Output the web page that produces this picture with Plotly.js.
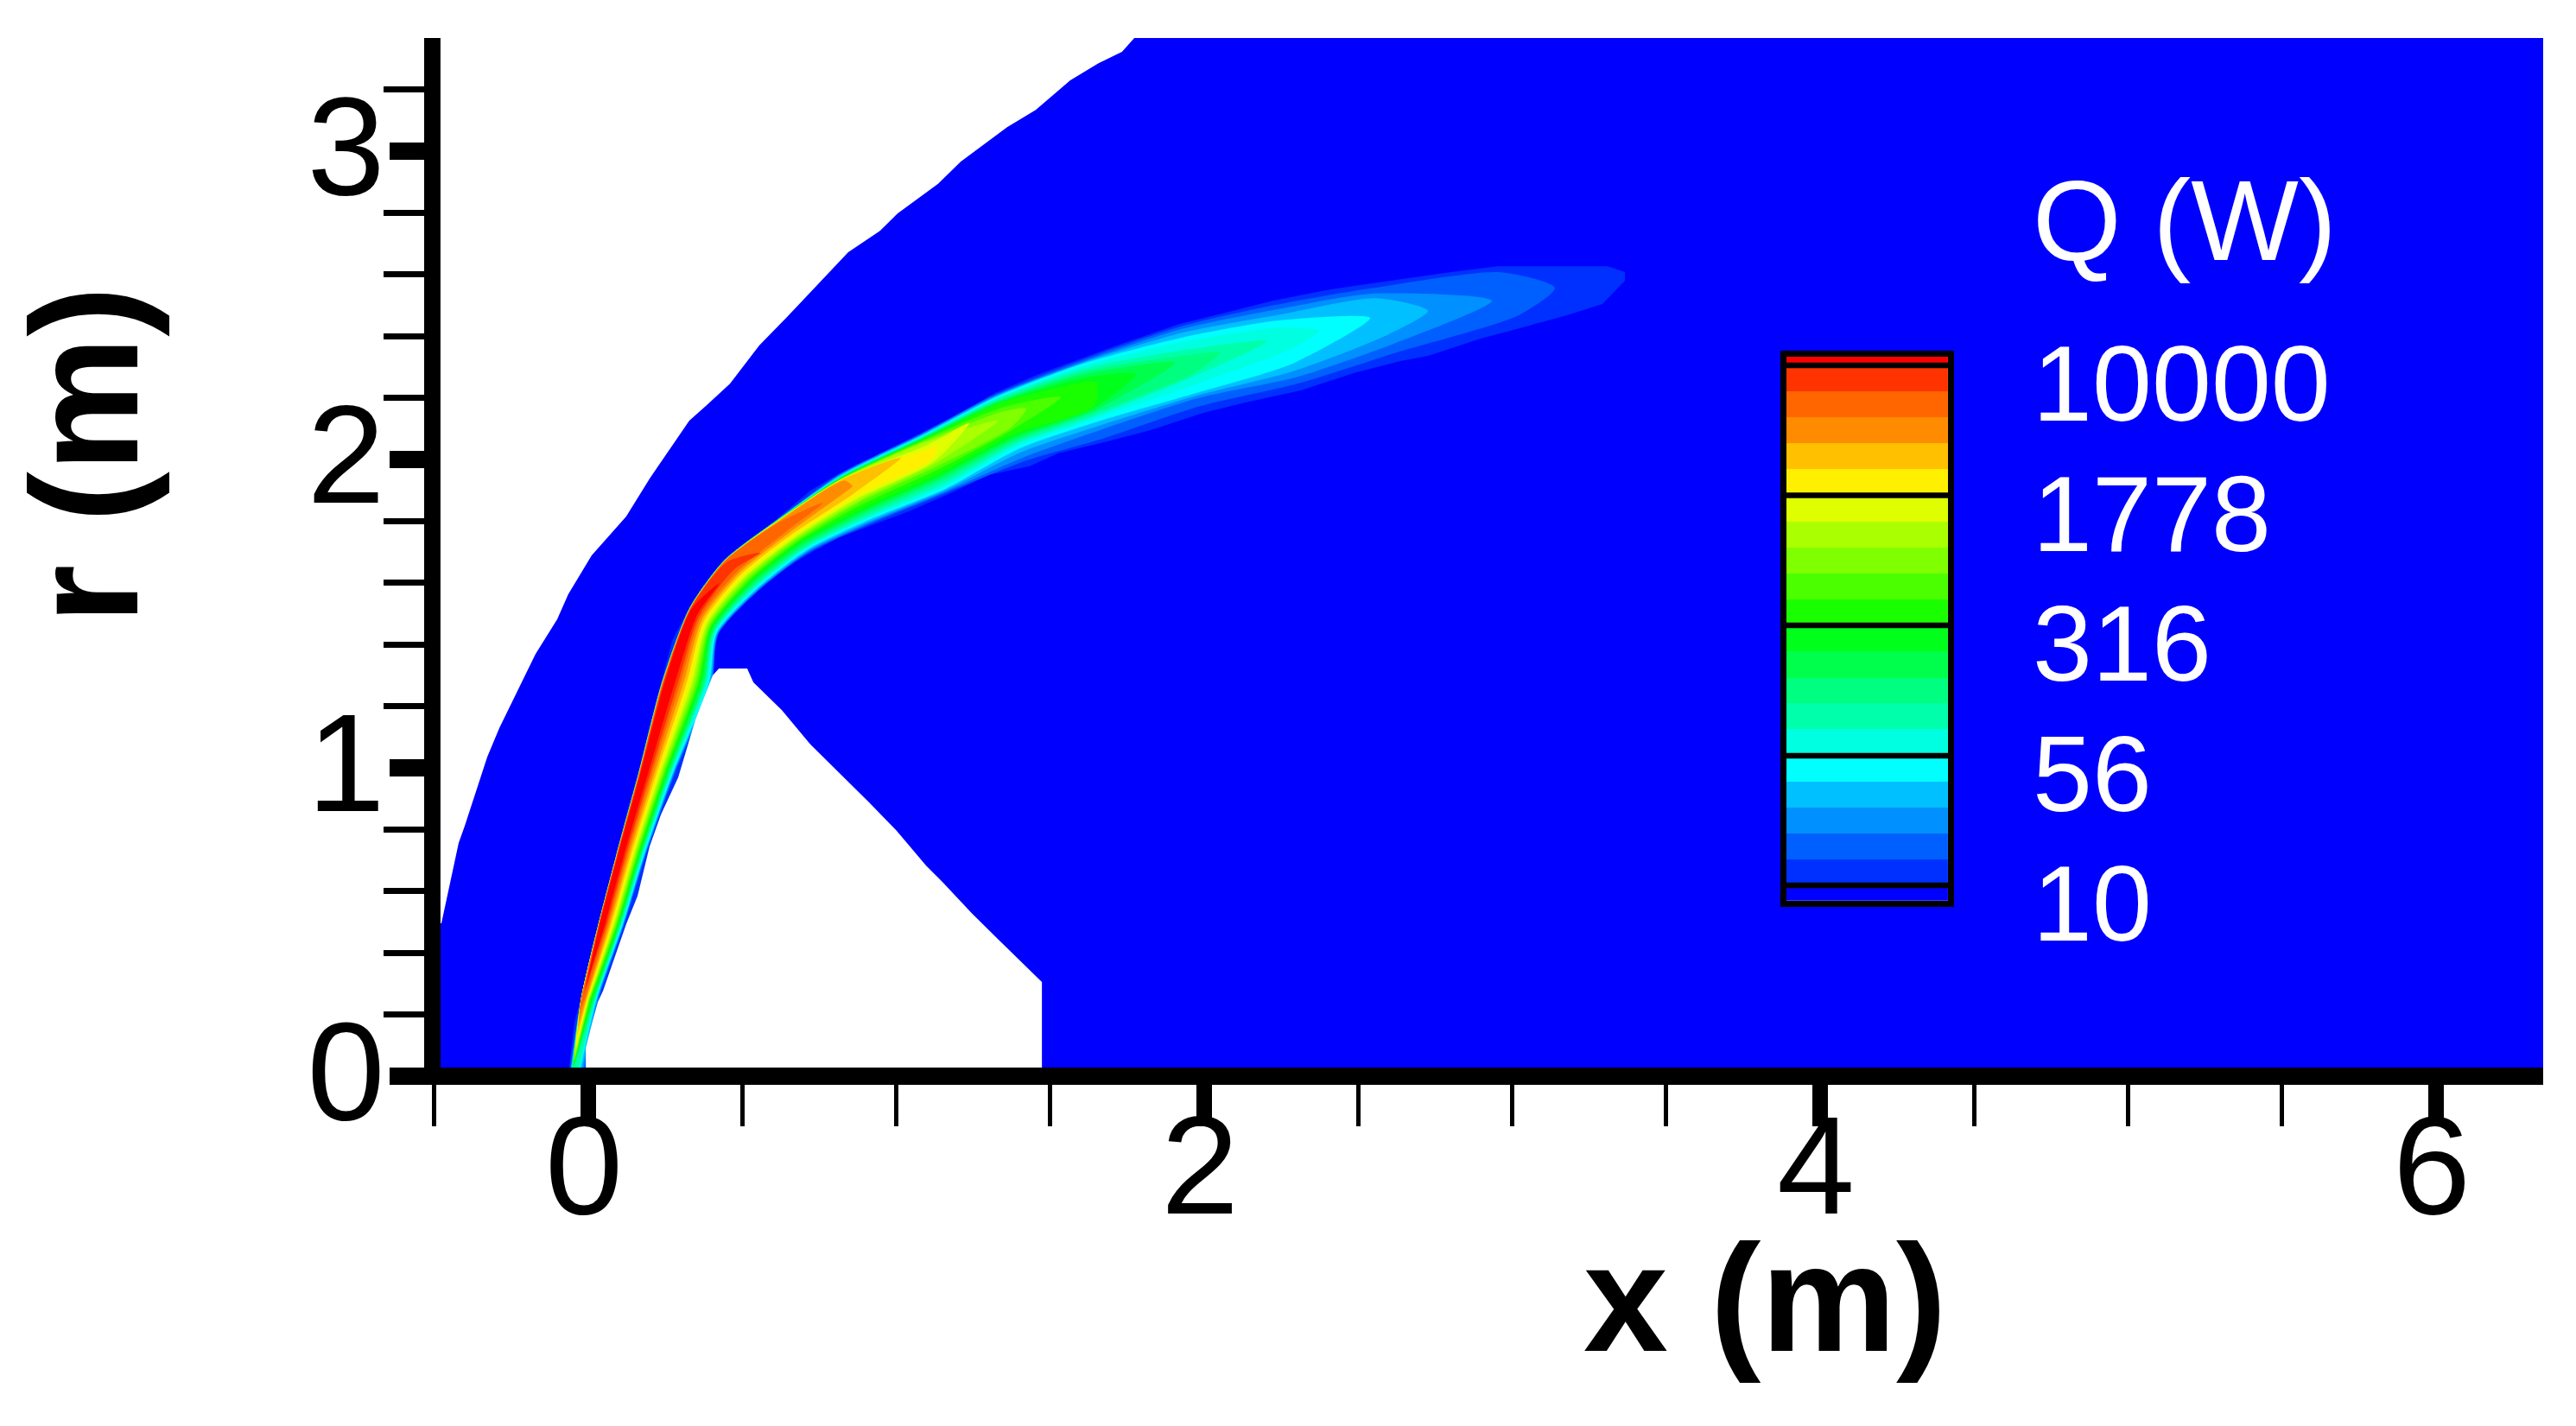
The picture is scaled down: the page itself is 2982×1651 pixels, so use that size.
<!DOCTYPE html>
<html>
<head>
<meta charset="utf-8">
<script src="https://cdn.plot.ly/plotly-3.0.1.min.js"></script>
<style>html,body{margin:0;padding:0;background:#fff}</style>
</head>
<body>
<div id="chart" style="width:2982px;height:1651px"></div>
<script>
var n = null

// shock line (x, r in metres)
var shockX = [-0.477, -0.457, -0.44, -0.421, -0.401, -0.365, -0.328, -0.289, -0.252, -0.216, -0.171, -0.101, -0.065, 0.011, 0.123, 0.199, 0.328, 0.384, 0.46, 0.555, 0.648, 0.844, 0.948, 1.004, 1.08, 1.136, 1.209, 1.285, 1.36, 1.453, 1.565, 1.658, 1.733, 1.773]
var shockR = [0.496, 0.588, 0.664, 0.756, 0.812, 0.924, 1.036, 1.129, 1.204, 1.28, 1.37, 1.482, 1.563, 1.689, 1.815, 1.938, 2.126, 2.176, 2.246, 2.37, 2.465, 2.672, 2.742, 2.798, 2.854, 2.894, 2.966, 3.022, 3.078, 3.134, 3.23, 3.286, 3.322, 3.367]

// solid body
var bodyX = [-0.008, -0.008, 0.011, 0.031, 0.048, 0.087, 0.123, 0.16, 0.199, 0.236, 0.292, 0.348, 0.384, 0.404, 0.424, 0.516, 0.536, 0.628, 0.721, 0.816, 0.909, 1.001, 1.097, 1.153, 1.245, 1.338, 1.433, 1.473, 1.473]
var bodyR = [0, 0.092, 0.168, 0.241, 0.277, 0.389, 0.493, 0.585, 0.745, 0.849, 0.969, 1.157, 1.249, 1.3, 1.322, 1.322, 1.277, 1.188, 1.076, 0.983, 0.891, 0.796, 0.683, 0.627, 0.529, 0.437, 0.345, 0.305, 0]

// Q = 10 contour, the outer edge of the radiating layer
var plumeX = [-0.065, -0.045, -0.025, 0.011, 0.048, 0.087, 0.123, 0.16, 0.199, 0.236, 0.272, 0.328, 0.384, 0.44, 0.536, 0.609, 0.721, 0.816, 0.965, 1.077, 1.189, 1.321, 1.45, 1.602, 1.717, 1.921, 2.07, 2.222, 2.412, 2.541, 2.802, 2.954, 3.31, 3.366, 3.366, 3.293, 3.178, 3.043, 2.898, 2.727, 2.634, 2.485, 2.314, 2.146, 1.997, 1.826, 1.675, 1.526, 1.433, 1.302, 1.17, 1.041, 0.928, 0.816, 0.721, 0.628, 0.553, 0.48, 0.424, 0.404, 0.412, 0.306, 0.208, 0.137, 0.053, 0.011]
var plumeR = [0, 0.176, 0.249, 0.417, 0.549, 0.709, 0.849, 0.978, 1.129, 1.277, 1.412, 1.521, 1.599, 1.675, 1.748, 1.804, 1.899, 1.955, 2.028, 2.084, 2.14, 2.216, 2.272, 2.328, 2.37, 2.44, 2.476, 2.515, 2.552, 2.571, 2.608, 2.627, 2.627, 2.608, 2.58, 2.504, 2.468, 2.431, 2.392, 2.336, 2.319, 2.28, 2.224, 2.188, 2.151, 2.095, 2.056, 2.02, 1.978, 1.95, 1.888, 1.832, 1.79, 1.748, 1.697, 1.641, 1.58, 1.507, 1.445, 1.361, 1.249, 0.978, 0.709, 0.493, 0.249, 0]

// section lines across the layer, from the shock side to the body side
var sectionOuterX = [-0.065, -0.025, 0.031, 0.087, 0.16, 0.236, 0.328, 0.44, 0.609, 0.816, 1.077, 1.321, 1.602, 1.921, 2.222, 2.541, 2.954]
var sectionOuterR = [0, 0.249, 0.493, 0.709, 0.978, 1.277, 1.521, 1.675, 1.804, 1.955, 2.084, 2.216, 2.328, 2.44, 2.515, 2.571, 2.627]
var sectionInnerX = [-0.008, 0.037, 0.118, 0.185, 0.281, 0.404, 0.423, 0.552, 0.721, 0.928, 1.17, 1.433, 1.675, 1.997, 2.315, 2.634, 3.044]
var sectionInnerR = [0, 0.249, 0.493, 0.709, 0.978, 1.277, 1.431, 1.571, 1.698, 1.79, 1.888, 1.978, 2.048, 2.151, 2.224, 2.319, 2.431]

// contour colours, one per level above the Q = 10 edge
var levelColors = ['#0060ff', '#0090ff', '#00c0ff', '#00ffff', '#00ffe0', '#00ffaa', '#00ff80', '#00ff4c', '#00ff1a', '#1aff00', '#4cff00', '#80ff00', '#aaff00', '#dfff00', '#fff000', '#ffc000', '#ff8c00', '#ff6600', '#ff3300', '#ff0000']

// where each contour crosses each section line (0 = outer end, 1 = inner end)
var levelTop = [
    [.05, .01, .01, .01, .01, .01, .01, .01, .01, .01, .01, .02, .02, .03, .05, .06, .1],
    [.08, .02, .02, .02, .02, .02, .02, .02, .02, .02, .02, .03, .04, .06, .1, .13, n],
    [.1, .02, .02, .02, .02, .02, .02, .02, .02, .03, .03, .04, .05, .1, .16, .19, n],
    [.15, .02, .02, .02, .02, .02, .02, .02, .02, .04, .04, .05, .06, .15, .22, n, n],
    [.2, .02, .02, .02, .02, .02, .02, .02, .02, .05, .05, .07, .09, .2, .3, n, n],
    [.25, .02, .02, .02, .02, .02, .02, .02, .02, .06, .06, .08, .12, .29, n, n, n],
    [n, .02, .03, .03, .03, .03, .03, .03, .03, .06, .07, .1, .15, .35, n, n, n],
    [n, .02, .03, .03, .03, .03, .03, .03, .03, .07, .08, .11, .18, n, n, n, n],
    [n, .02, .03, .03, .03, .03, .03, .03, .03, .08, .09, .13, .22, n, n, n, n],
    [n, .02, .03, .03, .03, .03, .03, .03, .03, .08, .1, .14, .27, n, n, n, n],
    [n, .02, .03, .03, .03, .03, .03, .03, .03, .09, .11, .2, n, n, n, n, n],
    [n, .02, .03, .03, .03, .03, .03, .03, .03, .09, .13, .25, n, n, n, n, n],
    [n, .02, .03, .03, .03, .03, .03, .03, .04, .1, .15, n, n, n, n, n, n],
    [n, .02, .03, .03, .03, .03, .03, .03, .04, .1, .2, n, n, n, n, n, n],
    [n, .02, .03, .03, .03, .03, .03, .03, .04, .1, .26, n, n, n, n, n, n],
    [n, .03, .03, .03, .03, .03, .03, .03, .05, .11, n, n, n, n, n, n, n],
    [n, .03, .03, .03, .03, .03, .03, .03, .06, .14, n, n, n, n, n, n, n],
    [n, .03, .04, .04, .04, .04, .04, .04, .08, n, n, n, n, n, n, n, n],
    [n, n, .05, .05, .05, .05, .05, .08, n, n, n, n, n, n, n, n, n],
    [n, n, .07, .07, .07, .07, .07, n, n, n, n, n, n, n, n, n, n]
]
var levelBottom = [
    [.9, .95, .985, .985, .985, .985, .985, .985, .98, .97, .97, .92, .93, .92, .92, .89, .8],
    [.8, .9, .97, .97, .97, .97, .97, .97, .96, .95, .95, .87, .83, .83, .85, .78, n],
    [.7, .87, .95, .95, .95, .95, .95, .95, .94, .93, .93, .8, .78, .8, .78, .65, n],
    [.6, .83, .93, .93, .93, .93, .93, .93, .91, .9, .91, .75, .73, .77, .7, n, n],
    [.55, .8, .9, .9, .9, .9, .9, .9, .88, .87, .87, .71, .69, .68, .55, n, n],
    [.5, .76, .87, .87, .87, .87, .87, .87, .85, .84, .83, .68, .66, .59, n, n, n],
    [n, .72, .85, .85, .85, .85, .85, .84, .82, .8, .78, .65, .63, .56, n, n, n],
    [n, .68, .82, .82, .82, .82, .82, .8, .78, .76, .74, .62, .6, n, n, n, n],
    [n, .62, .78, .78, .78, .78, .78, .76, .72, .72, .7, .59, .57, n, n, n, n],
    [n, .56, .75, .75, .75, .75, .75, .72, .68, .68, .66, .56, .55, n, n, n, n],
    [n, .5, .72, .72, .72, .72, .72, .69, .65, .62, .6, .5, n, n, n, n, n],
    [n, .47, .68, .68, .68, .68, .68, .65, .61, .57, .55, .47, n, n, n, n, n],
    [n, .43, .64, .64, .64, .64, .64, .61, .57, .54, .5, n, n, n, n, n, n],
    [n, .4, .6, .6, .6, .6, .6, .57, .54, .5, .47, n, n, n, n, n, n],
    [n, .37, .55, .55, .55, .55, .55, .53, .5, .46, .42, n, n, n, n, n, n],
    [n, .33, .5, .5, .5, .5, .5, .48, .45, .4, n, n, n, n, n, n, n],
    [n, .28, .44, .44, .44, .44, .44, .43, .39, .3, n, n, n, n, n, n, n],
    [n, .22, .38, .38, .38, .38, .38, .38, .33, n, n, n, n, n, n, n, n],
    [n, n, .33, .33, .33, .33, .33, .3, n, n, n, n, n, n, n, n, n],
    [n, n, .27, .27, .27, .27, .27, n, n, n, n, n, n, n, n, n, n]
]
// ends of each contour, towards the wake and towards the axis
var levelFarX = [3.139, 2.934, 2.727, 2.539, 2.373, 2.205, 2.053, 1.905, 1.778, 1.652, 1.534, 1.422, 1.33, 1.237, 1.133, 1.015, 0.858, 0.763, 0.558, 0.426]
var levelFarR = [2.557, 2.515, 2.482, 2.459, 2.417, 2.384, 2.347, 2.314, 2.277, 2.249, 2.202, 2.165, 2.126, 2.118, 2.048, 2.006, 1.913, 1.86, 1.697, 1.599]
var levelLowX = [n, n, n, n, n, n, -0.05, -0.05, -0.05, -0.05, -0.05, -0.045, -0.045, -0.045, -0.04, -0.036, -0.033, -0.03, -0.014, -0.012]
var levelLowR = [n, n, n, n, n, n, 0.01, 0.02, 0.03, 0.03, 0.04, 0.05, 0.06, 0.07, 0.09, 0.13, 0.16, 0.2, 0.265, 0.277]

// legend
var legendEdges = [8.18, 10, 14.1, 20, 28.2, 39.8, 56.2, 79.4, 112, 158, 224, 316, 447, 631, 891, 1259, 1778, 2512, 3548, 5012, 7079, 10000, 11220]
var legendColors = ['#0000ff', '#0030ff'].concat(levelColors)
var legendTicks = [10, 56, 316, 1778, 10000]
var legendLabels = ['10', '56', '316', '1778', '10000']

function crossing(i, f) {
    return [sectionOuterX[i] + f * (sectionInnerX[i] - sectionOuterX[i]),
            sectionOuterR[i] + f * (sectionInnerR[i] - sectionOuterR[i])]
}

function levelTrace(k) {
    var x = [], y = [], i, p
    if (levelLowX[k] !== null) {
        x.push(levelLowX[k])
        y.push(levelLowR[k])
    }
    for (i = 0; i < levelTop[k].length; i++) {
        if (levelTop[k][i] === null) continue
        p = crossing(i, levelTop[k][i])
        x.push(p[0])
        y.push(p[1])
    }
    x.push(levelFarX[k])
    y.push(levelFarR[k])
    for (i = levelBottom[k].length - 1; i >= 0; i--) {
        if (levelBottom[k][i] === null) continue
        p = crossing(i, levelBottom[k][i])
        x.push(p[0])
        y.push(p[1])
    }
    var trace = area(x, y, levelColors[k])
    trace.line = {width: 0, shape: 'spline', smoothing: 0.7}
    return trace
}

function area(x, y, color) {
    return {
        x: x,
        y: y,
        type: 'scatter',
        mode: 'lines',
        line: {width: 0},
        fill: 'toself',
        fillcolor: color,
        hoverinfo: 'skip',
        showlegend: false
    }
}

var xMin = -0.505, xMax = 6.348, rMax = 3.367

var traces = [area([xMin, xMin].concat(shockX, [xMax, xMax]), [0, shockR[0]].concat(shockR, [rMax, 0]), '#0000ff')]
traces.push(area(plumeX, plumeR, '#0030ff'))
levelColors.forEach(function(c, k) {
    traces.push(levelTrace(k))
})
traces.push(area(bodyX, bodyR, '#ffffff'))

// legend bar, on its own axes inside the plot
var scale = []
legendColors.forEach(function(c, i) {
    scale.push([i / legendColors.length, c])
    scale.push([(i + 1) / legendColors.length, c])
})
traces.push({
    type: 'heatmap',
    x: [0, 1],
    y: legendEdges,
    z: legendColors.map(function(c, i) { return [i + 0.5] }),
    zmin: 0,
    zmax: legendColors.length,
    colorscale: scale,
    showscale: false,
    hoverinfo: 'skip',
    xaxis: 'x2',
    yaxis: 'y2'
})
var tickX = [], tickY = []
legendTicks.forEach(function(q) {
    tickX.push(0, 1, null)
    tickY.push(q, q, null)
})
traces.push({
    type: 'scatter',
    mode: 'lines',
    x: tickX,
    y: tickY,
    line: {color: '#000000', width: 6.5},
    hoverinfo: 'skip',
    showlegend: false,
    xaxis: 'x2',
    yaxis: 'y2'
})

var tickFont = {family: 'Liberation Sans Narrow, Liberation Sans, Arial, sans-serif', size: 162, color: '#000000'}
var titleFont = {family: 'Liberation Sans, Arial, sans-serif', size: 176, color: '#000000'}
var legendFont = {family: 'Liberation Sans, Arial, sans-serif', size: 124, color: '#ffffff'}

var annotations = [
    {text: '<b>x (m)</b>', xref: 'paper', yref: 'paper', x: 0.6316, y: -0.2138, xanchor: 'center', yanchor: 'middle', showarrow: false, font: titleFont},
    {text: '<b>r (m)</b>', xref: 'paper', yref: 'paper', x: -0.1651, y: 0.5985, xanchor: 'center', yanchor: 'middle', textangle: -90, showarrow: false, font: titleFont},
    {text: 'Q (W)', xref: 'paper', yref: 'paper', x: 0.83, y: 0.824, xanchor: 'center', yanchor: 'middle', showarrow: false, font: {family: legendFont.family, size: 132, color: '#ffffff'}}
]
legendTicks.forEach(function(q, i) {
    annotations.push({
        text: legendLabels[i],
        xref: 'paper',
        yref: 'y2',
        x: 0.7572,
        y: Math.log10(q),
        yshift: -21,
        xanchor: 'left',
        yanchor: 'middle',
        showarrow: false,
        font: legendFont
    })
})

var layout = {
    width: 2982,
    height: 1651,
    margin: {l: 501, r: 38, t: 44, b: 405},
    paper_bgcolor: '#ffffff',
    plot_bgcolor: '#ffffff',
    showlegend: false,
    xaxis: {
        range: [xMin, xMax],
        tick0: 0,
        dtick: 2,
        ticks: 'outside',
        ticklen: 48,
        tickwidth: 18,
        tickcolor: '#000000',
        ticklabelstandoff: -93,
        ticklabelshift: -5,
        tickfont: tickFont,
        minor: {tick0: 0, dtick: 0.5, ticks: 'outside', ticklen: 48, tickwidth: 5, tickcolor: '#000000'},
        showgrid: false,
        zeroline: false,
        showline: true,
        linecolor: '#000000',
        linewidth: 10
    },
    yaxis: {
        range: [0, rMax],
        tick0: 0,
        dtick: 1,
        ticks: 'outside',
        ticklen: 40,
        tickwidth: 20,
        tickcolor: '#000000',
        ticklabelstandoff: -27,
        ticklabelshift: -7,
        tickfont: tickFont,
        minor: {tick0: 0, dtick: 0.2, ticks: 'outside', ticklen: 47, tickwidth: 7, tickcolor: '#000000'},
        showgrid: false,
        zeroline: false,
        showline: true,
        linecolor: '#000000',
        linewidth: 10
    },
    xaxis2: {
        domain: [0.6414, 0.718],
        range: [0, 1],
        anchor: 'y2',
        showticklabels: false,
        ticks: '',
        showgrid: false,
        zeroline: false,
        showline: true,
        mirror: true,
        linecolor: '#000000',
        linewidth: 7
    },
    yaxis2: {
        domain: [0.1693, 0.693],
        type: 'log',
        range: [0.913, 4.05],
        anchor: 'x2',
        showticklabels: false,
        ticks: '',
        showgrid: false,
        zeroline: false,
        showline: true,
        mirror: true,
        linecolor: '#000000',
        linewidth: 7
    },
    shapes: [
        // inner half of the heavy axis lines
        {type: 'rect', layer: 'above', xref: 'x', yref: 'y', x0: xMin, x1: xMax, y0: 0, y1: 0.028, fillcolor: '#000000', line: {width: 0}},
        {type: 'rect', layer: 'above', xref: 'x', yref: 'y', x0: xMin, x1: -0.48, y0: 0, y1: rMax, fillcolor: '#000000', line: {width: 0}}
    ],
    annotations: annotations
}

Plotly.newPlot('chart', traces, layout, {displayModeBar: false})
</script>
</body>
</html>
